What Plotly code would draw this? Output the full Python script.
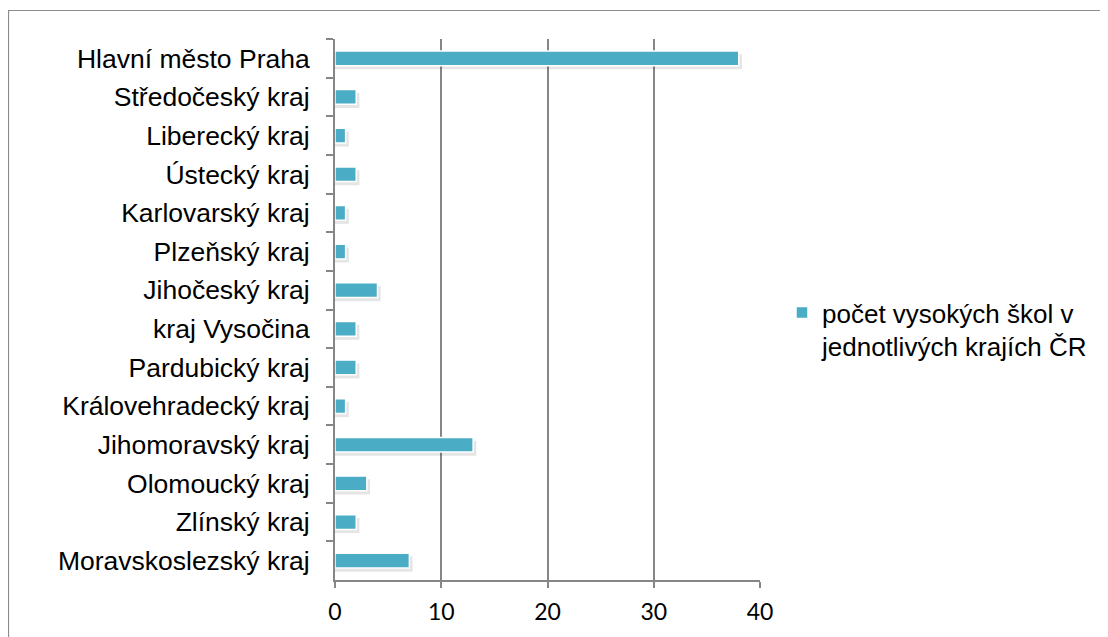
import plotly.graph_objects as go

categories = [
    "Hlavní město Praha", "Středočeský kraj", "Liberecký kraj", "Ústecký kraj",
    "Karlovarský kraj", "Plzeňský kraj", "Jihočeský kraj", "kraj Vysočina",
    "Pardubický kraj", "Královehradecký kraj", "Jihomoravský kraj",
    "Olomoucký kraj", "Zlínský kraj", "Moravskoslezský kraj",
]
values = [38, 2, 1, 2, 1, 1, 4, 2, 2, 1, 13, 3, 2, 7]
series_name = "počet vysokých škol v<br>jednotlivých krajích ČR"
x_ticks = [0, 10, 20, 30, 40]

BAR = "#4BACC6"
GRID = "#868686"

fig = go.Figure()
# soft drop shadow
fig.add_trace(go.Bar(
    y=categories, x=[v + 0.3 for v in values], orientation="h",
    width=0.39, offset=-0.195 + 0.09,
    marker=dict(color="rgba(0,0,0,0.10)", line=dict(width=0)),
    showlegend=False, hoverinfo="skip",
))
fig.add_trace(go.Bar(
    y=categories, x=values, orientation="h", name=series_name,
    width=0.38, offset=-0.19,
    marker=dict(color=BAR, line=dict(color="white", width=1.5)),
))

# page is offset by the 8px body margin
L, R, T, B = 327, 356, 31, 65
W, H = 1108, 637
pw = W - L - R
ph = H - T - B

def px_x(p):
    return (p - L) / pw

def px_y(p):
    return (H - B - p) / ph

fig.update_layout(
    width=W, height=H, barmode="overlay",
    margin=dict(l=L, r=R, t=T, b=B),
    paper_bgcolor="white", plot_bgcolor="white",
    font=dict(family="Liberation Sans, Arial", size=26.5, color="black"),
    xaxis=dict(
        range=[0, 40], tickvals=x_ticks, showgrid=True, gridcolor=GRID, gridwidth=1.5,
        showline=True, linecolor=GRID, linewidth=1.5, ticks="outside", ticklen=6,
        tickcolor=GRID, tickwidth=1.5, zeroline=False,
        tickfont=dict(family="Lato, Carlito, Calibri", size=23, color="black"),
        ticklabelstandoff=5,
    ),
    yaxis=dict(
        autorange="reversed", categoryorder="array", categoryarray=categories,
        showline=True, linecolor=GRID, linewidth=2, ticks="outside", ticklen=7,
        tickcolor=GRID, tickwidth=1.5, tickson="boundaries", showgrid=False,
        zeroline=False, tickfont=dict(family="Liberation Sans, Arial", size=26.5),
        ticklabelstandoff=18,
    ),
    legend=dict(
        x=px_x(774), xanchor="left", y=px_y(281), yanchor="top",
        valign="top", font=dict(family="Liberation Sans, Arial", size=26),
        bgcolor="rgba(0,0,0,0)",
    ),
    shapes=[dict(
        type="rect", xref="paper", yref="paper",
        x0=px_x(0.5), x1=px_x(W + 5),
        y0=px_y(H + 5), y1=px_y(2.5),
        line=dict(color="#8c8c8c", width=1.2), fillcolor="rgba(0,0,0,0)", layer="below",
    )],
    bargap=0.6,
)

fig.write_html("out.html")
